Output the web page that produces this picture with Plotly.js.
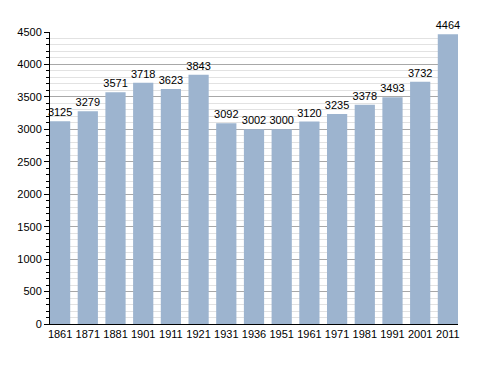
<!DOCTYPE html>
<html><head><meta charset="utf-8">
<script src="https://cdn.plot.ly/plotly-3.0.1.min.js"></script>
<style>body{margin:0;background:#fff}#c{width:488px;height:373px}</style>
</head><body><div id="c"></div>
<script>
const years = ["1861","1871","1881","1901","1911","1921","1931","1936","1951","1961","1971","1981","1991","2001","2011"];
const population = [3125,3279,3571,3718,3623,3843,3092,3002,3000,3120,3235,3378,3493,3732,4464];
const yTicks = [0,500,1000,1500,2000,2500,3000,3500,4000,4500];

const gap = 0.27;
Plotly.newPlot('c', [{
  type: 'bar',
  x: years,
  y: population,
  text: population.map(String),
  textposition: 'outside',
  constraintext: 'none',
  cliponaxis: false,
  textfont: {family: 'Liberation Sans, Arial, sans-serif', size: 11, color: '#000'},
  marker: {color: '#9db4cf'},
  hoverinfo: 'none'
}], {
  width: 488, height: 373,
  margin: {l: 50, r: 30, t: 32, b: 49},
  paper_bgcolor: '#fff', plot_bgcolor: '#fff',
  bargap: gap,
  showlegend: false,
  font: {family: 'Liberation Sans, Arial, sans-serif', size: 11, color: '#000'},
  xaxis: {
    type: 'category',
    range: [-0.5 + gap / 2, years.length - 0.5 - gap / 2],
    showline: true, linecolor: '#000', linewidth: 1,
    ticks: '', showgrid: false,
    tickfont: {size: 11}
  },
  yaxis: {
    range: [0, 4500],
    tickvals: yTicks,
    ticktext: yTicks.map(String),
    showline: true, linecolor: '#000', linewidth: 1,
    ticks: 'outside', ticklen: 5, tickcolor: '#000',
    showgrid: true, gridcolor: '#a8a8a8', gridwidth: 1,
    zeroline: false,
    minor: {dtick: 100, showgrid: true, gridcolor: '#e2e2e2', ticks: 'outside', ticklen: 3, tickcolor: '#000'},
    tickfont: {size: 11}
  }
}, {displayModeBar: false, staticPlot: true});
</script></body></html>
